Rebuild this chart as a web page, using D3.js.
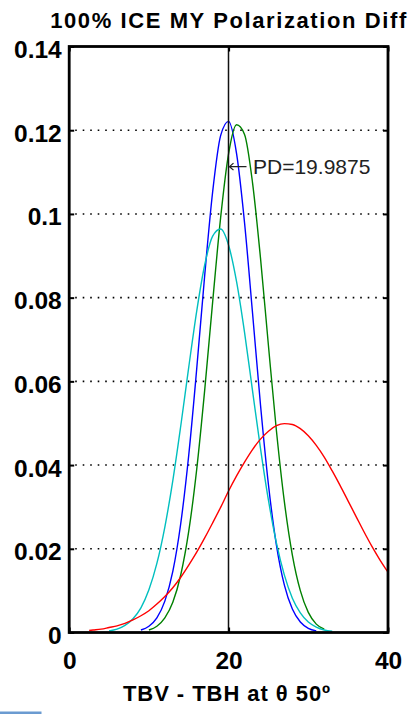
<!DOCTYPE html>
<html>
<head>
<meta charset="utf-8">
<script src="https://cdn.jsdelivr.net/npm/d3@7"></script>
<style>
  html, body { margin: 0; padding: 0; background: #fff; }
  svg { display: block; }
</style>
</head>
<body>
<svg id="chart" width="413" height="714"></svg>
<script>
// Polarization difference distributions (TBV - TBH) at 50 degrees incidence
const titleText = "100% ICE MY Polarization Diff";
const xLabelText = "TBV - TBH at \u03b8 50\u00ba";

const xTicks = [0, 20, 40];
const xTickLabels = ["0", "20", "40"];
const yTicks = [0, 0.02, 0.04, 0.06, 0.08, 0.1, 0.12, 0.14];
const yTickLabels = ["0", "0.02", "0.04", "0.06", "0.08", "0.1", "0.12", "0.14"];
const gridTicks = [0.02, 0.04, 0.06, 0.08, 0.1, 0.12];

// blue series
const blueX = [9, 10, 11, 12, 13, 14, 15, 16, 17, 18, 19, 20, 21, 22, 23, 24, 25, 26, 27, 28, 29, 30, 31];
const blueY = [0.0006, 0.0015, 0.0035, 0.0075, 0.0146, 0.0261, 0.0424, 0.0630, 0.0853, 0.1053, 0.1187, 0.1221,
               0.1144, 0.0979, 0.0764, 0.0544, 0.0353, 0.0209, 0.0113, 0.0056, 0.0025, 0.0010, 0.0004];

// green series
const greenX = [10, 11, 12, 13, 14, 15, 16, 17, 18, 19, 20, 21, 22, 23, 24, 25, 26, 27, 28, 29, 30, 31, 32];
const greenY = [0.0006, 0.0015, 0.0035, 0.0072, 0.0138, 0.0242, 0.0390, 0.0579, 0.0790, 0.0991, 0.1144, 0.1213,
                0.1190, 0.1075, 0.0895, 0.0685, 0.0482, 0.0312, 0.0185, 0.0100, 0.0048, 0.0020, 0.0008];

// cyan series
const cyanX = [5, 6, 7, 8, 9, 10, 11, 12, 13, 14, 15, 16, 17, 18, 19, 20, 21, 22, 23, 24, 25, 26, 27, 28, 29, 30, 31, 32, 33];
const cyanY = [0.0004, 0.0008, 0.0017, 0.0033, 0.0059, 0.0102, 0.0165, 0.0252, 0.0363, 0.0494, 0.0634, 0.0768,
               0.0878, 0.0947, 0.0964, 0.0925, 0.0838, 0.0717, 0.0578, 0.0440, 0.0316, 0.0214, 0.0137, 0.0082,
               0.0047, 0.0025, 0.0013, 0.0006, 0.0003];

// red series
const redX = [2.5, 3, 4, 5, 6, 7, 8, 9, 10, 11, 12, 13, 14, 15, 16, 17, 18, 19, 20, 21, 22, 23, 24, 25, 26,
              27, 28, 29, 30, 31, 32, 33, 34, 35, 36, 37, 38, 39, 40];
const redY = [0.0005, 0.0006, 0.0008, 0.0012, 0.0016, 0.0022, 0.0030, 0.0040, 0.0052, 0.0068, 0.0086, 0.0107,
              0.0132, 0.0161, 0.0192, 0.0226, 0.0262, 0.0299, 0.0338, 0.0374, 0.0407, 0.0437, 0.0462, 0.0481,
              0.0494, 0.0499, 0.0497, 0.0487, 0.0470, 0.0447, 0.0419, 0.0386, 0.0351, 0.0314, 0.0277, 0.0240,
              0.0205, 0.0173, 0.0144];

const pdValue = 19.9875;
const pdLabel = "PD=19.9875";
const pdLabelY = 0.1113;

const seriesList = [
  { x: blueX, y: blueY, color: "#0000ff" },
  { x: greenX, y: greenY, color: "#008000" },
  { x: cyanX, y: cyanY, color: "#00bfbf" },
  { x: redX, y: redY, color: "#ff0000" }
];

(function draw() {
  const svg = d3.select("#chart");
  const plotLeft = 69.2, plotRight = 388, plotTop = 46.5, plotBottom = 632.5;

  const x = d3.scaleLinear().domain([0, 40]).range([plotLeft, plotRight]);
  const y = d3.scaleLinear().domain([0, 0.14]).range([plotBottom, plotTop]);

  const font = "'Liberation Sans', Arial, Helvetica, sans-serif";

  // dotted horizontal grid
  svg.append("g")
    .selectAll("line")
    .data(gridTicks)
    .join("line")
    .attr("x1", plotLeft + 6).attr("x2", plotRight - 4)
    .attr("y1", d => y(d)).attr("y2", d => y(d))
    .attr("stroke", "#000")
    .attr("stroke-width", 1.6)
    .attr("stroke-dasharray", "1.6,5.9");

  // curves
  const line = d3.line().x(d => x(d[0])).y(d => y(d[1])).curve(d3.curveMonotoneX);
  svg.append("g")
    .selectAll("path")
    .data(seriesList)
    .join("path")
    .attr("d", s => line(s.x.map((v, i) => [v, s.y[i]])))
    .attr("fill", "none")
    .attr("stroke", s => s.color)
    .attr("stroke-width", 1.4)
    .attr("stroke-linejoin", "round");

  // PD marker line
  svg.append("line")
    .attr("x1", x(pdValue)).attr("x2", x(pdValue))
    .attr("y1", y(0)).attr("y2", y(0.14))
    .attr("stroke", "#111")
    .attr("stroke-width", 1.5);

  // axes (ticks point inward)
  function styleAxis(g) {
    g.select(".domain").remove();
    g.selectAll(".tick line").attr("stroke", "#000").attr("stroke-width", 2);
    g.selectAll(".tick text")
      .attr("fill", "#000")
      .style("font-family", font)
      .style("font-size", "24.5px")
      .style("font-weight", "bold");
  }

  svg.append("g")
    .attr("transform", `translate(${plotLeft},0)`)
    .call(d3.axisLeft(y).tickValues(yTicks).tickFormat((d, i) => yTickLabels[i]).tickSize(-5).tickPadding(7.5))
    .call(styleAxis)
    .call(g => g.selectAll(".tick text").attr("dy", "0.45em"));

  svg.append("g")
    .attr("transform", `translate(${plotRight},0)`)
    .call(d3.axisRight(y).tickValues(yTicks).tickFormat("").tickSize(-5))
    .call(styleAxis);

  svg.append("g")
    .attr("transform", `translate(0,${plotBottom})`)
    .call(d3.axisBottom(x).tickValues(xTicks).tickFormat((d, i) => xTickLabels[i]).tickSize(-5).tickPadding(19.5))
    .call(styleAxis);

  svg.append("g")
    .attr("transform", `translate(0,${plotTop})`)
    .call(d3.axisTop(x).tickValues(xTicks).tickFormat("").tickSize(-5))
    .call(styleAxis);

  // frame
  svg.append("rect")
    .attr("x", plotLeft).attr("y", plotTop)
    .attr("width", plotRight - plotLeft).attr("height", plotBottom - plotTop)
    .attr("fill", "none")
    .attr("stroke", "#000")
    .attr("stroke-width", 2.8);

  // PD annotation with arrow pointing at the marker line
  const ay = y(pdLabelY);
  const ax = x(pdValue) + 1;
  svg.append("path")
    .attr("d", `M${ax + 17},${ay}H${ax}M${ax + 4},${ay - 3.5}L${ax},${ay}L${ax + 4},${ay + 3.5}`)
    .attr("fill", "none")
    .attr("stroke", "#222")
    .attr("stroke-width", 1.3);
  svg.append("text")
    .attr("x", ax + 23.5)
    .attr("y", ay + 7.6)
    .attr("fill", "#222")
    .style("font-family", font)
    .style("font-size", "21px")
    .text(pdLabel);

  // title
  svg.append("text")
    .attr("x", 229)
    .attr("y", 28.3)
    .attr("text-anchor", "middle")
    .attr("fill", "#000")
    .style("font-family", font)
    .style("font-size", "22px")
    .style("font-weight", "bold")
    .style("letter-spacing", "1.6px")
    .text(titleText);

  // x axis label
  svg.append("text")
    .attr("x", 227)
    .attr("y", 701)
    .attr("text-anchor", "middle")
    .attr("fill", "#000")
    .style("font-family", font)
    .style("font-size", "22px")
    .style("font-weight", "bold")
    .style("letter-spacing", "0.95px")
    .text(xLabelText);

  // small tab at the lower left edge
  svg.append("rect")
    .attr("x", 0).attr("y", 711.5)
    .attr("width", 41.5).attr("height", 2.5)
    .attr("fill", "#6b9bd1");
})();
</script>
</body>
</html>
